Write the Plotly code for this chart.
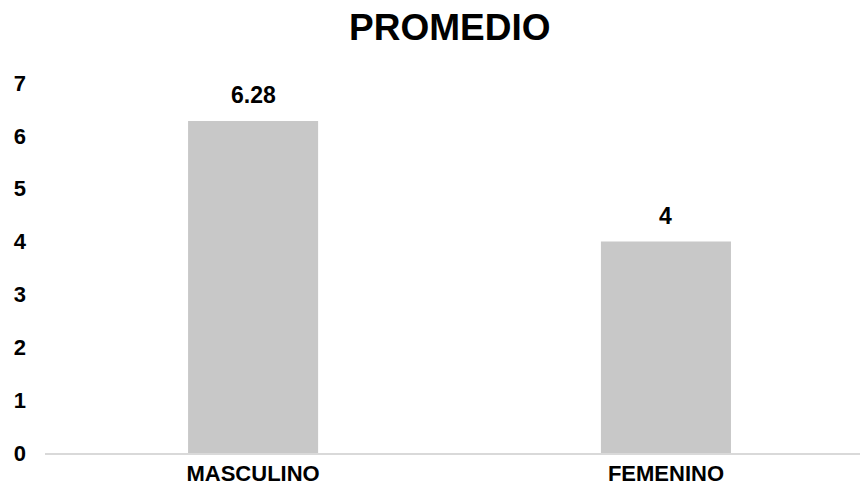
import plotly.graph_objects as go

categories = ["MASCULINO", "FEMENINO"]
values = [6.28, 4]
value_labels = ["6.28", "4"]
y_ticks = [0, 1, 2, 3, 4, 5, 6, 7]

font_family = "Liberation Sans, Arial, sans-serif"
tick_font = dict(family=font_family, size=22, color="#000000", weight="bold")
label_font = dict(family=font_family, size=23, color="#000000", weight="bold")
cat_font = dict(family=font_family, size=22, color="#000000", weight="bold")

fig = go.Figure()
fig.add_trace(go.Bar(
    x=categories,
    y=values,
    width=0.315,
    marker=dict(color="#c8c8c8", line=dict(width=0)),
    hoverinfo="skip",
))

# value labels above each bar
for cat, val, lab in zip(categories, values, value_labels):
    fig.add_annotation(
        x=cat, y=val, text=lab, showarrow=False,
        yanchor="bottom", yshift=11,
        font=label_font,
    )

fig.update_layout(
    width=860, height=489,
    margin=dict(l=45, r=0, t=83, b=36, autoexpand=False),
    paper_bgcolor="white", plot_bgcolor="white",
    showlegend=False,
    title=dict(
        text="PROMEDIO", x=0.523, xanchor="center",
        y=1 - 27 / 489, yanchor="middle",
        font=dict(family=font_family, size=37, color="#000000", weight="bold"),
    ),
    xaxis=dict(
        range=[-0.504, 1.47],
        showgrid=False, zeroline=False,
        showline=True, linecolor="#d9d9d9", linewidth=2,
        ticks="", ticklabelstandoff=0, automargin=False,
        tickfont=cat_font,
    ),
    yaxis=dict(
        range=[0, 7],
        tickvals=y_ticks,
        showgrid=False, zeroline=False, showline=False,
        ticks="", ticklabelstandoff=18, automargin=False,
        tickfont=tick_font,
    ),
)

fig.write_html("out.html")
